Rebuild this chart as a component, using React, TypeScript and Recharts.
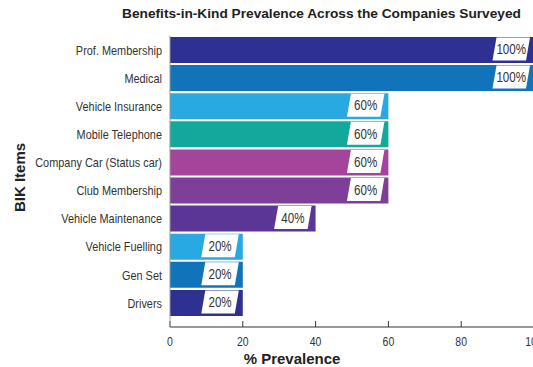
import React from 'react';
import { BarChart, Bar, XAxis, YAxis, Cell, LabelList, Label } from 'recharts';

const categories = [
  'Prof. Membership',
  'Medical',
  'Vehicle Insurance',
  'Mobile Telephone',
  'Company Car (Status car)',
  'Club Membership',
  'Vehicle Maintenance',
  'Vehicle Fuelling',
  'Gen Set',
  'Drivers',
];
const prevalence = [100, 100, 60, 60, 60, 60, 40, 20, 20, 20];
const xTicks = [0, 20, 40, 60, 80, 100];
const barColors = [
  '#2e3192', '#1174bb', '#28a9e1', '#13a89c', '#a5449b',
  '#7f3f98', '#5b3696', '#28a9e1', '#1174bb', '#2e3192',
];

const data = categories.map((name, i) => ({ name, value: prevalence[i] }));

const SANS = "'Liberation Sans',Arial,Helvetica,sans-serif";

function NarrowText(props: any) {
  const { x, y, anchor, size, children, fill, dy } = props;
  const sx = 0.84;
  return (
    <text
      transform={`translate(${x},${y}) scale(${sx},1)`}
      x={0}
      y={0}
      dy={dy}
      textAnchor={anchor}
      fontFamily={SANS}
      fontSize={size}
      fill={fill || '#333'}
    >
      {children}
    </text>
  );
}

function YTick(props: any) {
  const { x, y, payload } = props;
  return (
    <NarrowText x={x} y={y} anchor="end" size={13} dy="0.36em">
      {payload.value}
    </NarrowText>
  );
}

function XTick(props: any) {
  const { x, y, payload } = props;
  return (
    <NarrowText x={x} y={y} anchor="middle" size={12.5} dy="0.71em">
      {payload.value}
    </NarrowText>
  );
}

function TagLabel(props: any) {
  const { x, y, width, height, value } = props;
  const end = x + width;
  const w = 37.5;
  const s = 4;
  const xr = end - 4;
  const yt = y + 0.5;
  const yb = y + height - 2.5;
  const pts = `${xr - w + s},${yt} ${xr},${yt} ${xr - s},${yb} ${xr - w},${yb}`;
  return (
    <g>
      <polygon points={pts} fill="#ffffff" />
      <text
        transform={`translate(${xr - w / 2},${(yt + yb) / 2}) scale(0.8,1)`}
        x={0}
        y={0}
        dy="0.36em"
        textAnchor="middle"
        fontFamily={SANS}
        fontSize={14.5}
        fill="#333333"
      >
        {value}%
      </text>
    </g>
  );
}

function XLabel(props: any) {
  const { viewBox } = props;
  return (
    <text
      x={viewBox.x + 122}
      y={viewBox.y + viewBox.height - 3}
      textAnchor="middle"
      fontFamily={SANS}
      fontWeight="bold"
      fontSize={15}
      fill="#222"
    >
      % Prevalence
    </text>
  );
}

function YLabel(props: any) {
  const { viewBox } = props;
  const cx = 20;
  const cy = viewBox.y + viewBox.height / 2 - 4;
  return (
    <text
      x={cx}
      y={cy}
      transform={`rotate(-90, ${cx}, ${cy})`}
      textAnchor="middle"
      dy="0.36em"
      fontFamily={SANS}
      fontWeight="bold"
      fontSize={15}
      fill="#222"
    >
      BIK Items
    </text>
  );
}

export default function App() {
  return (
    <div
      style={{
        position: 'absolute',
        left: 0,
        top: 0,
        width: 533,
        height: 367,
        overflow: 'hidden',
        background: '#fff',
      }}
    >
      <div
        style={{
          position: 'absolute',
          left: 0,
          top: 6,
          width: 533,
          textAlign: 'center',
          paddingLeft: 110,
          boxSizing: 'border-box',
          fontFamily: SANS,
          fontWeight: 'bold',
          fontSize: 13.7,
          color: '#222',
          whiteSpace: 'nowrap',
        }}
      >
        Benefits-in-Kind Prevalence Across the Companies Surveyed
      </div>
      <BarChart
        width={560}
        height={367}
        data={data}
        layout="vertical"
        margin={{ top: 36, right: 26, bottom: 0, left: 0 }}
        style={{ position: 'absolute', left: 0, top: 0 }}
      >
        <XAxis
          type="number"
          domain={[0, 100]}
          ticks={xTicks}
          interval={0}
          height={40}
          axisLine={{ stroke: '#333', strokeWidth: 1 }}
          tickLine={{ stroke: '#333' }}
          tickSize={-6}
          tickMargin={16}
          tick={<XTick />}
        >
          <Label content={<XLabel />} />
        </XAxis>
        <YAxis
          type="category"
          dataKey="name"
          width={170}
          padding={{ top: 0, bottom: 10 }}
          axisLine={{ stroke: '#999', strokeWidth: 1 }}
          tickLine={false}
          tickMargin={2}
          interval={0}
          tick={<YTick />}
        >
          <Label content={<YLabel />} />
        </YAxis>
        <Bar dataKey="value" barSize={26} isAnimationActive={false}>
          {data.map((d, i) => (
            <Cell key={d.name} fill={barColors[i]} />
          ))}
          <LabelList dataKey="value" content={<TagLabel />} />
        </Bar>
      </BarChart>
    </div>
  );
}
